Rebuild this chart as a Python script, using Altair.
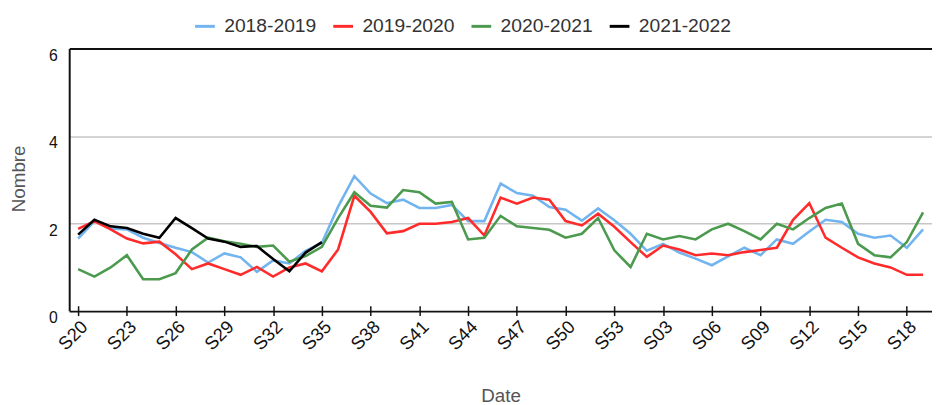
import altair as alt
import pandas as pd

# week labels on the x axis (S20 .. S53 then S01 .. S19)
weeks = [f"S{n:02d}" for n in range(20, 54)] + [f"S{n:02d}" for n in range(1, 20)]
tick_weeks = weeks[::3]

seasons = ["2018-2019", "2019-2020", "2020-2021", "2021-2022"]
colors = ["#72b4ef", "#ff2b2b", "#4b9a4e", "#000000"]

s2018 = [1.65, 2.05, 1.88, 1.86, 1.67, 1.55, 1.44, 1.34, 1.10, 1.31, 1.22, 0.89,
         1.15, 1.08, 1.37, 1.55, 2.38, 3.08, 2.68, 2.46, 2.54, 2.35, 2.35, 2.42,
         2.05, 2.05, 2.91, 2.69, 2.63, 2.37, 2.31, 2.06, 2.34, 2.07, 1.76, 1.37,
         1.53, 1.33, 1.19, 1.04, 1.24, 1.44, 1.27, 1.63, 1.53, 1.81, 2.08, 2.03,
         1.76, 1.67, 1.72, 1.44, 1.86]
s2019 = [1.87, 2.05, 1.86, 1.65, 1.54, 1.58, 1.29, 0.95, 1.08, 0.95, 0.82, 1.00,
         0.78, 0.99, 1.08, 0.90, 1.40, 2.63, 2.26, 1.77, 1.82, 1.99, 1.99, 2.03,
         2.12, 1.72, 2.59, 2.45, 2.59, 2.54, 2.05, 1.95, 2.22, 1.92, 1.57, 1.23,
         1.49, 1.40, 1.27, 1.31, 1.27, 1.34, 1.39, 1.44, 2.08, 2.46, 1.67, 1.44,
         1.22, 1.08, 0.99, 0.82, 0.82]
s2020 = [0.95, 0.78, 0.99, 1.27, 0.72, 0.72, 0.86, 1.40, 1.67, 1.59, 1.53, 1.46,
         1.49, 1.12, 1.25, 1.46, 2.12, 2.71, 2.40, 2.36, 2.76, 2.71, 2.45, 2.49,
         1.63, 1.67, 2.17, 1.93, 1.89, 1.85, 1.67, 1.76, 2.12, 1.38, 1.00, 1.76,
         1.63, 1.71, 1.63, 1.86, 1.99, 1.82, 1.63, 1.99, 1.86, 2.12, 2.35, 2.45,
         1.53, 1.27, 1.22, 1.57, 2.25]
s2021 = [1.74, 2.08, 1.93, 1.89, 1.76, 1.67, 2.12, 1.89, 1.65, 1.58, 1.46, 1.48,
         1.18, 0.90, 1.33, 1.57]

rows = []
for season, values in zip(seasons, [s2018, s2019, s2020, s2021]):
    for week, v in zip(weeks, values):
        rows.append({"week": week, "nombre": v, "saison": season})
df = pd.DataFrame(rows)

edge = "datum.value == 0 || datum.value == 6"

chart = alt.Chart(df).mark_line(strokeWidth=2.6).encode(
    x=alt.X("week:O", sort=weeks,
            scale=alt.Scale(type="point", padding=0.55),
            axis=alt.Axis(values=tick_weeks, title="Date", domain=False, grid=False,
                          offset=-5, tickSize=10, tickWidth=1.5, tickColor="#111",
                          labelAngle=315, labelAlign="right", labelBaseline="middle",
                          labelPadding=8, labelOffset=6, labelFontSize=18.5,
                          labelColor="#111", titleFontSize=19, titleFontWeight="normal",
                          titleColor="#555", titleX=437, titleY=91,
                          titleAlign="center", titleBaseline="middle")),
    y=alt.Y("nombre:Q", scale=alt.Scale(domain=[0, 6]),
            axis=alt.Axis(values=[0, 2, 4, 6], title="Nombre", ticks=False,
                          domainColor="#111", domainWidth=2,
                          gridColor=alt.condition(edge, alt.value("#111"), alt.value("#c6c6c6")),
                          gridWidth=alt.condition(edge, alt.value(2), alt.value(1.5)),
                          labelPadding=12, labelOffset=7, labelBaseline="middle",
                          labelFlush=False, labelFontSize=16, labelColor="#111",
                          titleFontSize=19, titleFontWeight="normal", titleColor="#555",
                          titleAngle=270, titleX=-51, titleY=131.5,
                          titleAlign="center", titleBaseline="middle")),
    color=alt.Color("saison:N",
                    scale=alt.Scale(domain=seasons, range=colors),
                    legend=alt.Legend(title=None, orient="none", direction="horizontal",
                                      legendX=126, legendY=-34, padding=0,
                                      symbolType="stroke", symbolStrokeWidth=3,
                                      symbolSize=400, labelOffset=8, columnPadding=10,
                                      labelFontSize=19.5, labelColor="#333")),
).properties(
    width=874,
    height=265.5,
    autosize=alt.AutoSizeParams(type="none"),
    padding={"left": 62, "top": 38.5, "right": 0, "bottom": 93},
).configure(
    font="Liberation Sans"
).configure_view(
    strokeWidth=0
)

chart.save("out.html", embed_options={"renderer": "svg", "actions": False})
